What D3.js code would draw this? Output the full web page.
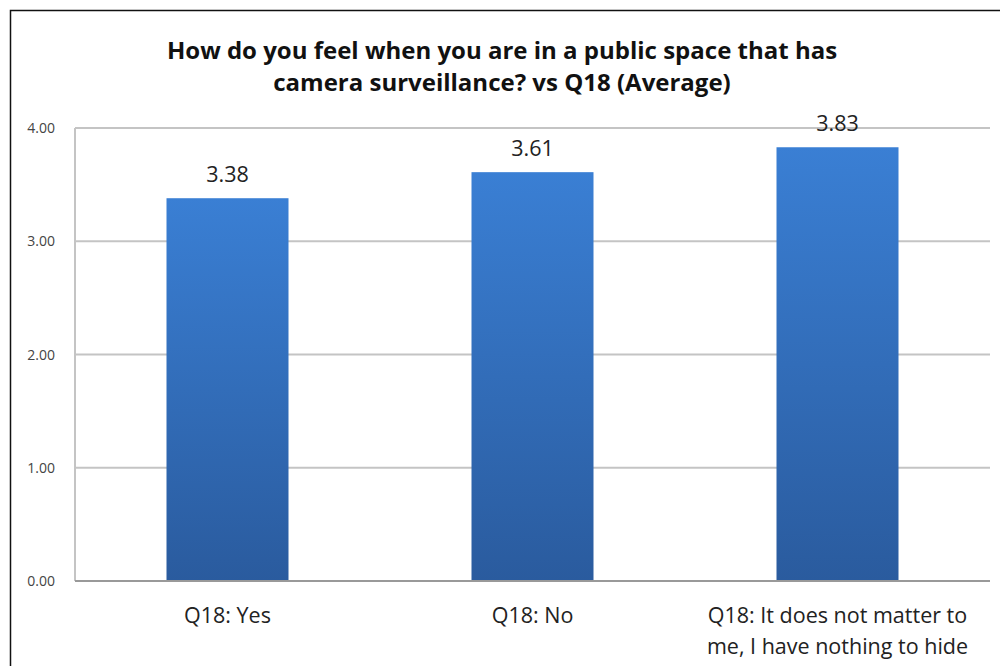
<!DOCTYPE html>
<html>
<head>
<meta charset="utf-8">
<script src="https://cdn.jsdelivr.net/npm/d3@7"></script>
<style>
  body { margin: 0; background: #fff; }
  svg text { font-family: "Open Sans", Lato, sans-serif; }
</style>
</head>
<body>
<div class="wrapper"></div>
<script>
var categories = ["Q18: Yes", "Q18: No", "Q18: It does not matter to|me, I have nothing to hide"];
var averages = [3.38, 3.61, 3.83];
var yTicks = [0, 1, 2, 3, 4];
var titleLines = ["How do you feel when you are in a public space that has",
                  "camera surveillance? vs Q18 (Average)"];

var width = 1000,
    height = 666,
    margin = {top: 128, right: 10, bottom: 85, left: 75};

var svg = d3.select(".wrapper").append("svg")
    .attr("width", width)
    .attr("height", height);

// frame of the pasted chart (left + top edges only show)
svg.append("path")
    .attr("d", "M10.5,666 V10.5 H1000")
    .attr("fill", "none")
    .attr("stroke", "#111")
    .attr("stroke-width", 1.5);

var defs = svg.append("defs");
var grad = defs.append("linearGradient")
    .attr("id", "barGrad")
    .attr("x1", 0).attr("y1", 0).attr("x2", 0).attr("y2", 1);
grad.append("stop").attr("offset", "0%").attr("stop-color", "#3a7fd4");
grad.append("stop").attr("offset", "100%").attr("stop-color", "#2a5b9e");

var x = d3.scaleBand()
    .domain(categories)
    .range([margin.left, width - margin.right])
    .paddingInner(0.6)
    .paddingOuter(0.3);

var y = d3.scaleLinear()
    .domain([0, 4])
    .range([height - margin.bottom, margin.top]);

// gridlines
svg.append("g").selectAll("line")
    .data(yTicks.filter(function(d) { return d > 0; }))
  .enter().append("line")
    .attr("x1", margin.left)
    .attr("x2", width - margin.right)
    .attr("y1", function(d) { return y(d); })
    .attr("y2", function(d) { return y(d); })
    .attr("stroke", "#c4c4c4")
    .attr("stroke-width", 2);

// y axis line
svg.append("line")
    .attr("x1", margin.left).attr("x2", margin.left)
    .attr("y1", y(4)).attr("y2", y(0))
    .attr("stroke", "#c4c4c4")
    .attr("stroke-width", 2);

// tick labels
svg.append("g").selectAll("text")
    .data(yTicks)
  .enter().append("text")
    .attr("x", 55)
    .attr("y", function(d) { return y(d) + 5; })
    .attr("text-anchor", "end")
    .attr("font-size", 14)
    .attr("fill", "#444")
    .text(d3.format(".2f"));

// bars
svg.append("g").selectAll("rect")
    .data(averages)
  .enter().append("rect")
    .attr("x", function(d, i) { return x(categories[i]); })
    .attr("y", function(d) { return y(d); })
    .attr("width", x.bandwidth())
    .attr("height", function(d) { return y(0) - y(d); })
    .attr("fill", "url(#barGrad)");

// baseline
svg.append("line")
    .attr("x1", margin.left).attr("x2", width - margin.right)
    .attr("y1", y(0)).attr("y2", y(0))
    .attr("stroke", "#999")
    .attr("stroke-width", 2);

// value labels
svg.append("g").selectAll("text")
    .data(averages)
  .enter().append("text")
    .attr("x", function(d, i) { return x(categories[i]) + x.bandwidth() / 2; })
    .attr("y", function(d) { return y(d) - 16; })
    .attr("text-anchor", "middle")
    .attr("font-size", 21.5)
    .attr("fill", "#222")
    .text(d3.format(".2f"));

// category labels
var cat = svg.append("g").selectAll("text")
    .data(categories)
  .enter().append("text")
    .attr("x", function(d) { return x(d) + x.bandwidth() / 2; })
    .attr("y", 623)
    .attr("text-anchor", "middle")
    .attr("font-size", 21.5)
    .attr("fill", "#222");
cat.selectAll("tspan")
    .data(function(d) { return d.split("|"); })
  .enter().append("tspan")
    .attr("x", function() { var p = this.parentNode; return d3.select(p).attr("x"); })
    .attr("dy", function(d, i) { return i ? 31 : 0; })
    .text(function(d) { return d; });

// title
svg.append("g").selectAll("text")
    .data(titleLines)
  .enter().append("text")
    .attr("x", 502)
    .attr("y", function(d, i) { return 59 + i * 32; })
    .attr("text-anchor", "middle")
    .attr("font-size", 24)
    .attr("font-weight", "bold")
    .attr("fill", "#111")
    .text(function(d) { return d; });
</script>
</body>
</html>
